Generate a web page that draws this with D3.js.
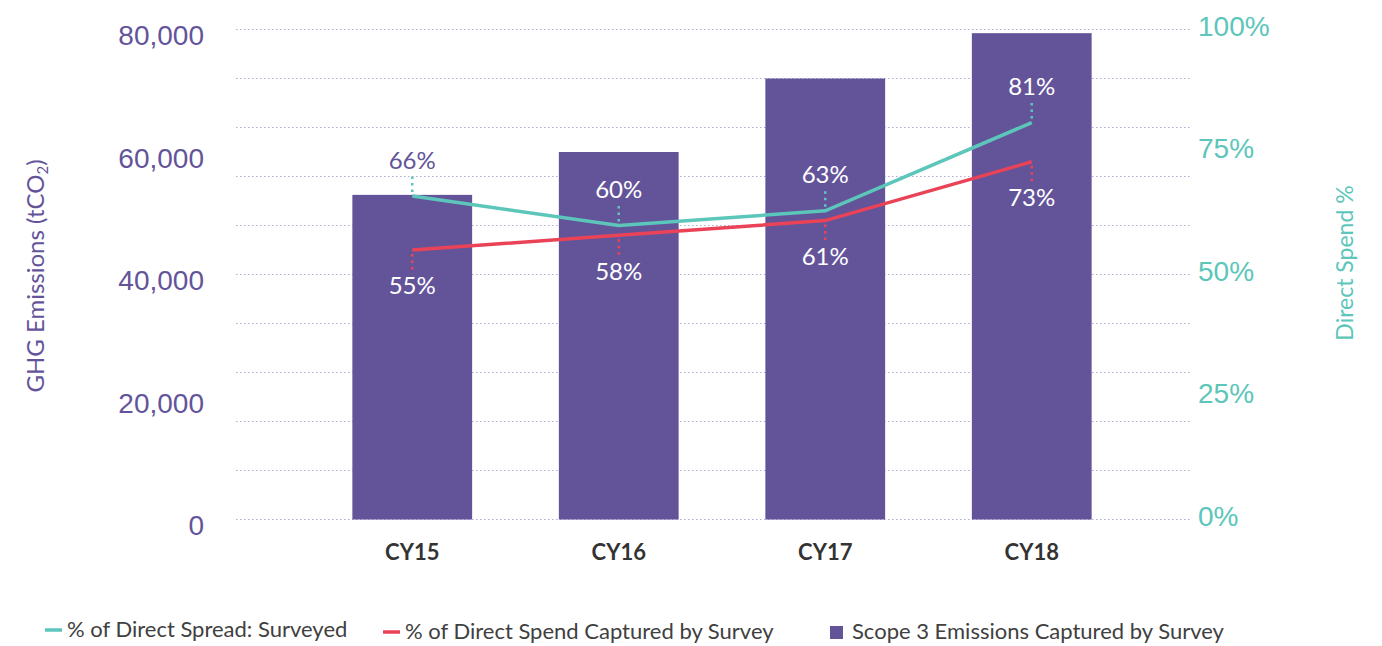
<!DOCTYPE html>
<html>
<head>
<meta charset="utf-8">
<script src="https://cdn.jsdelivr.net/npm/d3@7"></script>
<style>
	body { margin: 0; background: #fff; }
	svg { font-family: Lato, "Open Sans", sans-serif; }
</style>
</head>
<body>
<div id="chart"></div>
<script>
// chart data
var years = ["CY15", "CY16", "CY17", "CY18"];
var emissions = [53000, 60000, 72000, 79400];
var surveyed = [0.66, 0.60, 0.63, 0.81];
var captured = [0.55, 0.58, 0.61, 0.73];
var leftTicks = [0, 20000, 40000, 60000, 80000];
var rightTicks = [0, 0.25, 0.5, 0.75, 1];

var purple = "#63549a",
	teal = "#5cc6ba",
	red = "#ea4257";

var W = 1382, H = 646;
var gridLeft = 236, gridRight = 1190,
	plotTop = 29.5, plotBottom = 519.5;

var svg = d3.select("#chart").append("svg")
	.attr("width", W)
	.attr("height", H);

// scales
var x = d3.scaleBand()
	.domain(years)
	.range([309, 1135])
	.paddingInner(0.42)
	.paddingOuter(0.21);

var yL = d3.scaleLinear().domain([0, 80000]).range([plotBottom, plotTop]);
var yR = d3.scaleLinear().domain([0, 1]).range([plotBottom, plotTop]);

// dotted gridlines
svg.append("g")
	.selectAll("line")
	.data(yR.ticks(10))
	.enter().append("line")
	.attr("x1", gridLeft)
	.attr("x2", gridRight)
	.attr("y1", function(d) { return yR(d); })
	.attr("y2", function(d) { return yR(d); })
	.attr("stroke", "#b3acd9")
	.attr("stroke-width", 1)
	.attr("stroke-dasharray", "1.5,2.5");

// bars
svg.append("g")
	.selectAll("rect")
	.data(emissions)
	.enter().append("rect")
	.attr("x", function(d, i) { return x(years[i]); })
	.attr("y", function(d) { return yL(d); })
	.attr("width", x.bandwidth())
	.attr("height", function(d) { return plotBottom - yL(d); })
	.attr("fill", purple);

// left axis
var axL = svg.append("g")
	.attr("transform", "translate(204,0)")
	.call(d3.axisLeft(yL).tickValues(leftTicks).tickFormat(d3.format(",")).tickSize(0).tickPadding(0));
axL.select(".domain").remove();
axL.selectAll("text")
	.attr("fill", purple)
	.attr("dy", "0.55em")
	.style("font-size", "28px");

// right axis
var axR = svg.append("g")
	.attr("transform", "translate(1198,0)")
	.call(d3.axisRight(yR).tickValues(rightTicks).tickFormat(d3.format(".0%")).tickSize(0).tickPadding(0));
axR.select(".domain").remove();
axR.selectAll("text")
	.attr("fill", teal)
	.attr("dy", "0.2em")
	.style("font-size", "28px");

// category axis
var axX = svg.append("g")
	.attr("transform", "translate(0," + plotBottom + ")")
	.call(d3.axisBottom(x).tickSize(0).tickPadding(0));
axX.select(".domain").remove();
axX.selectAll("text")
	.attr("y", 33)
	.attr("dy", "0.35em")
	.attr("fill", "#333")
	.style("font-family", "Lato, sans-serif")
	.style("font-size", "22px")
	.style("font-weight", "bold");

// axis titles
svg.append("text")
	.attr("transform", "translate(44,276)rotate(-90)")
	.attr("text-anchor", "middle")
	.attr("fill", purple)
	.style("font-size", "24px")
	.html("GHG Emissions (tCO<tspan font-size='15px' dy='4'>2</tspan><tspan dy='-4'>)</tspan>");

svg.append("text")
	.attr("transform", "translate(1353,263)rotate(-90)")
	.attr("text-anchor", "middle")
	.attr("fill", teal)
	.style("font-size", "23px")
	.text("Direct Spend %");

// lines
var cx = function(i) { return x(years[i]) + x.bandwidth() / 2; };
var line = d3.line()
	.x(function(d, i) { return cx(i); })
	.y(function(d) { return yR(d); });

svg.append("path")
	.datum(captured)
	.attr("d", line)
	.attr("fill", "none")
	.attr("stroke", red)
	.attr("stroke-width", 3.5);

svg.append("path")
	.datum(surveyed)
	.attr("d", line)
	.attr("fill", "none")
	.attr("stroke", teal)
	.attr("stroke-width", 3.5);

// data labels with dotted leaders
function labels(values, color, dir) {
	var g = svg.append("g");
	values.forEach(function(v, i) {
		var px = cx(i), py = yR(v);
		g.append("line")
			.attr("x1", px).attr("x2", px)
			.attr("y1", py + dir * 4)
			.attr("y2", py + dir * 20)
			.attr("stroke", color)
			.attr("stroke-width", 2.5)
			.attr("stroke-dasharray", "2.5,4");
		var ly = py + dir * 36;
		g.append("text")
			.attr("x", px)
			.attr("y", ly)
			.attr("dy", "0.35em")
			.attr("text-anchor", "middle")
			.attr("fill", ly < yL(emissions[i]) ? purple : "#fff")
			.style("font-size", "24px")
			.text(d3.format(".0%")(v));
	});
}
labels(surveyed, teal, -1);
labels(captured, red, 1);

// legend
var legend = svg.append("g").style("font-size", "22px").attr("fill", "#404040");
legend.append("line").attr("x1", 45).attr("x2", 62).attr("y1", 630).attr("y2", 630)
	.attr("stroke", teal).attr("stroke-width", 3.5);
legend.append("text").attr("x", 67).attr("y", 637).text("% of Direct Spread: Surveyed");
legend.append("line").attr("x1", 383).attr("x2", 400).attr("y1", 632).attr("y2", 632)
	.attr("stroke", red).attr("stroke-width", 3.5);
legend.append("text").attr("x", 405).attr("y", 639).text("% of Direct Spend Captured by Survey");
legend.append("rect").attr("x", 830).attr("y", 626).attr("width", 13).attr("height", 13)
	.attr("fill", purple);
legend.append("text").attr("x", 852).attr("y", 639).text("Scope 3 Emissions Captured by Survey");
</script>
</body>
</html>
